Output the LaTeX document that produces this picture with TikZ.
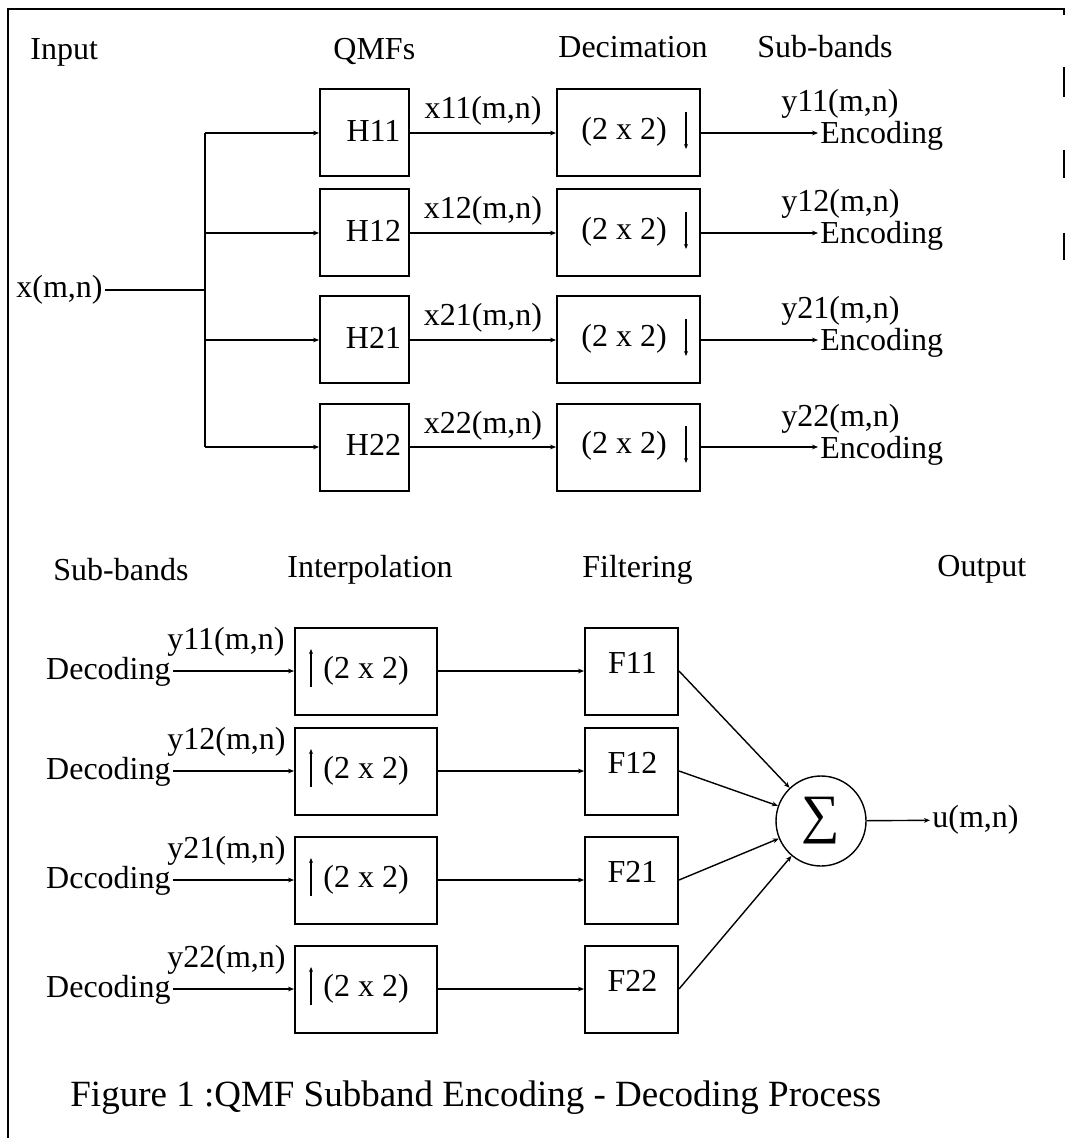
\documentclass[tikz,border=0pt]{standalone}
\usepackage{fontspec}
\setmainfont{Liberation Serif}
\usetikzlibrary{arrows.meta,calc}
\begin{document}
\begin{tikzpicture}[x=0.5pt,y=-0.5pt,
  every node/.style={font=\fontsize{16pt}{19pt}\selectfont, inner sep=1pt},
  blk/.style={draw, line width=1pt, minimum height=43.5pt, inner sep=0pt},
  hbox/.style={blk, minimum width=44.5pt},
  dbox/.style={blk, minimum width=71.5pt},
  ibox/.style={blk, minimum width=71pt},
  fbox/.style={blk, minimum width=46.5pt},
  wire/.style={line width=0.7pt},
  flow/.style={wire, -{Stealth[length=3pt,width=2.4pt]}},
  rate/.style={line width=1pt, -{Stealth[length=2.5pt,width=2pt]}},
  frame/.style={line width=1.2pt}]
\useasboundingbox (0,0) rectangle (1066,1138);

% page frame (open at the bottom, broken on the right)
\draw[frame] (8,1138) -- (8,9) -- (1064,9) -- (1064,15);
\foreach \a/\b in {67/97,150/178,233/260}
  \draw[frame] (1064,\a) -- (1064,\b);

% ---------- analysis (encoder) side ----------
\node[anchor=base west] (hIn)  at (28,60)  {Input};
\node[anchor=base west] (hQ)   at (331,60) {QMFs};
\node[anchor=base west] (hDec) at (556,58) {Decimation};
\node[anchor=base west] (hSb)  at (755,58) {Sub-bands};

\node[anchor=east] (xin) at (105,290) {x(m,n)};
\coordinate (j) at (205,290);
\draw[wire] (xin) -- (j);

\foreach \i/\ly in {11/133,12/233,21/340,22/447} {
  \coordinate (b\i) at (205,\ly);
  \node[hbox] (H\i) at (364.5,\ly) {};
  \node (Ht\i) at ($(H\i.center)+(9,-2)$) {H\i};
  \node[dbox] (D\i) at (628.5,\ly) {};
  \node (Dt\i) at ($(D\i.center)+(-4.5,-1)$) {(2 x 2)};
  \draw[rate] ($(D\i.center)+(57.5,-21)$) -- ++(0,37);
  \node[anchor=base west] (E\i) at (818,\ly+11) {Encoding};
  \node[anchor=base west] (Y\i) at (779,\ly-21) {y\i(m,n)};
  \draw[flow] (b\i) -- (H\i.west);
  \draw[flow] (H\i.east) -- node[anchor=base, yshift=7pt] {x\i(m,n)} (D\i.west);
  \draw[flow] (D\i.east) -- (D\i.east -| E\i.west);
}
\draw[wire] (b11) -- (b22);

% ---------- synthesis (decoder) side ----------
\node[anchor=base west] (hSb2) at (51,580)  {Sub-bands};
\node[anchor=base west] (hInt) at (285,577) {Interpolation};
\node[anchor=base west] (hFil) at (580,577) {Filtering};
\node[anchor=base west] (hOut) at (935,576) {Output};

\node[draw, circle, line width=0.7pt, minimum size=45pt, inner sep=0pt] (S) at (821,821)
  {\fontsize{27pt}{30pt}\selectfont ∑};

\foreach \i/\ly/\dc in {11/671/Decoding,12/771/Decoding,21/880/Dccoding,22/989/Decoding} {
  \node[anchor=base east] (Dc\i) at (173,\ly+8) {\dc};
  \node[anchor=base west] (Z\i) at (165,\ly-22) {y\i(m,n)};
  \node[ibox] (I\i) at (366,\ly) {(2 x 2)};
  \draw[rate] ($(I\i.center)+(-55,16)$) -- ++(0,-38);
  \node[fbox] (F\i) at (631.5,\ly) {};
  \node (Ft\i) at ($(F\i.center)+(1,-8)$) {F\i};
  \draw[flow] (Dc\i.east |- I\i.west) -- (I\i.west);
  \draw[flow] (I\i) -- (F\i);
  \draw[flow] (F\i.east) -- (S);
}

\node[anchor=west] (U) at (930,820) {u(m,n)};
\draw[flow] (S) -- (U);

\node[anchor=base west, font=\fontsize{18.5pt}{22pt}\selectfont] (cap) at (68,1106)
  {Figure 1 :QMF Subband Encoding - Decoding Process};
\end{tikzpicture}
\end{document}
